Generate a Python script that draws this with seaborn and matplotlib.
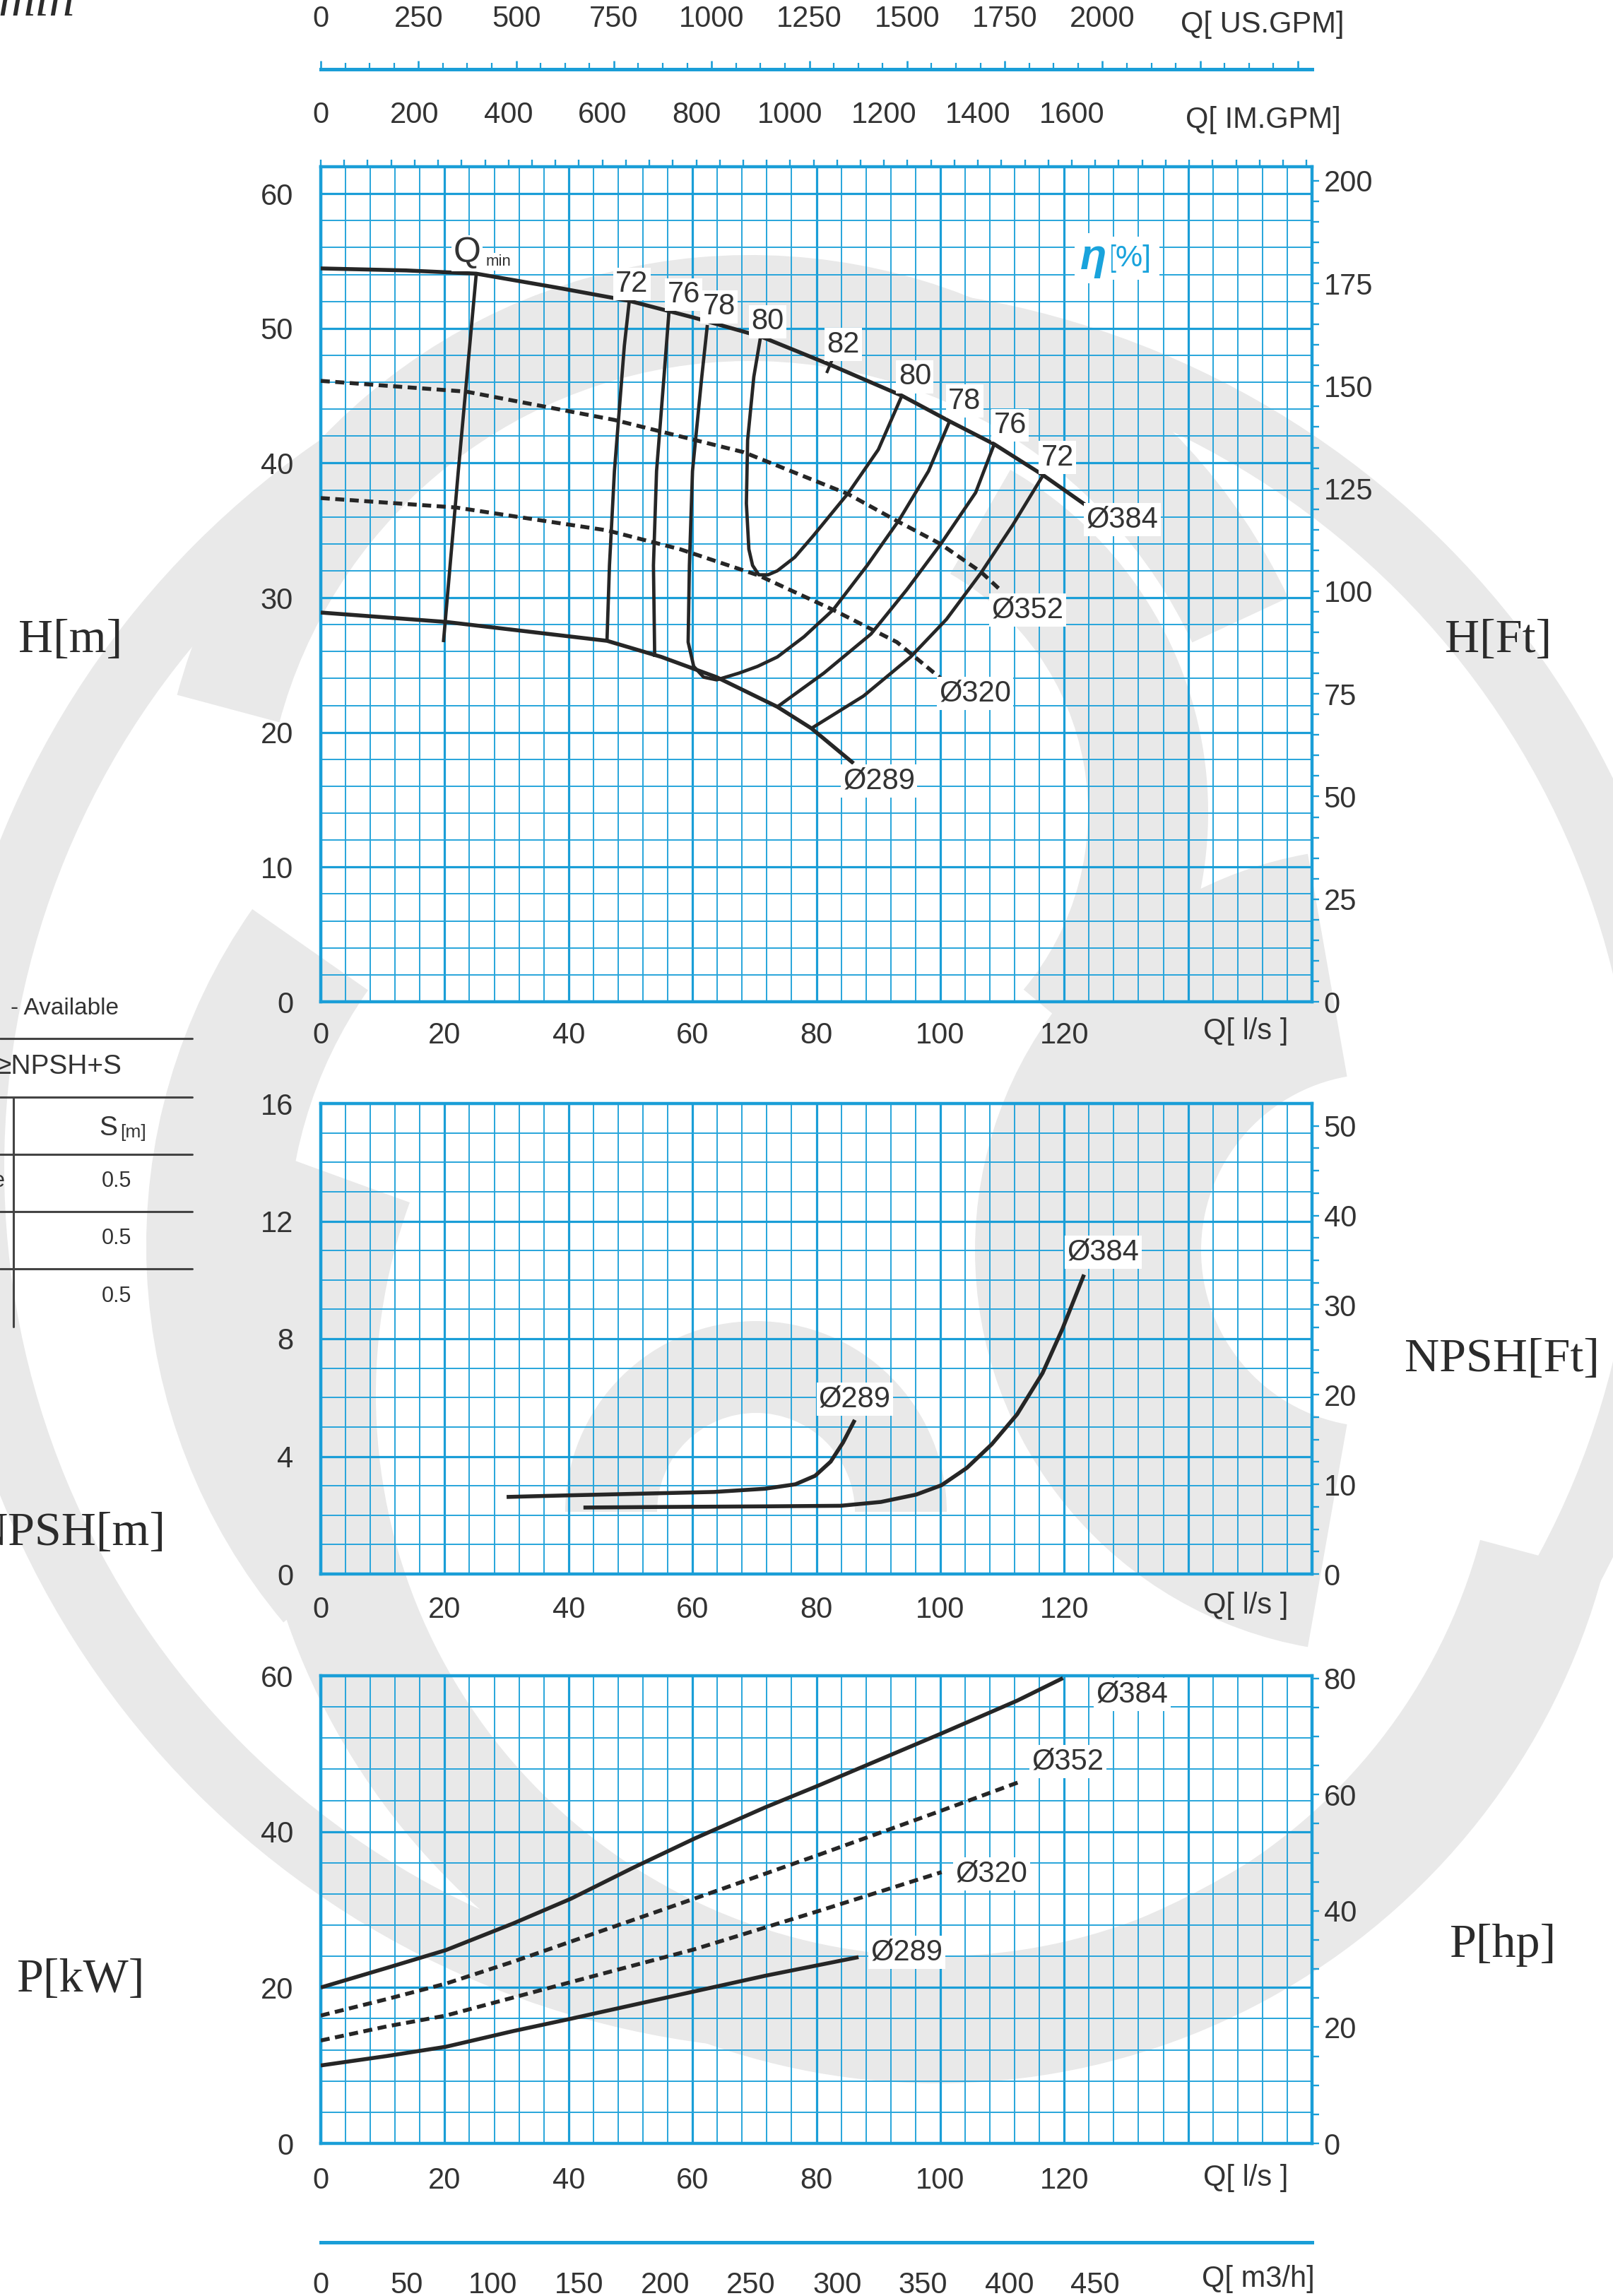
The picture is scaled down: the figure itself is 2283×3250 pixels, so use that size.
import numpy as np
import pandas as pd
import matplotlib
matplotlib.use("Agg")
import matplotlib.pyplot as plt
import seaborn as sns
from matplotlib.patches import Wedge
from matplotlib.markers import MarkerStyle
from matplotlib.transforms import Affine2D
from matplotlib.ticker import MultipleLocator, FuncFormatter

# ------------------------------------------------------------------ data
DIAMETERS = ["Ø384", "Ø352", "Ø320", "Ø289"]

# Head curves  H [m]  vs  Q [l/s]
Q_H384 = [0, 13.8, 25.1, 37.8, 49.8, 60.2, 71.0, 82.2, 93.8, 101.5, 108.7, 116.6, 123.4]
H_384 = [54.45, 54.3, 54.06, 53.05, 52.04, 50.8, 49.4, 47.3, 45.0, 43.1, 41.4, 39.1, 36.9]
Q_H352 = [0, 23.5, 47.4, 68.3, 85.1, 93.0, 100.0, 106.6, 109.4]
H_352 = [46.1, 45.3, 43.2, 40.8, 37.7, 35.7, 34.0, 31.9, 30.7]
Q_H320 = [0, 21.8, 46.2, 58.0, 70.7, 82.7, 93.0, 100.1]
H_320 = [37.4, 36.7, 35.0, 33.6, 31.65, 29.1, 26.7, 24.0]
Q_H289 = [0, 20.25, 46.2, 55.0, 63.9, 73.7, 79.2, 86.0]
H_289 = [28.9, 28.2, 26.8, 25.6, 24.1, 21.9, 20.3, 17.7]

# Efficiency iso-lines (Q [l/s], H [m])
QMIN_Q = [25.1, 22.2, 19.8]
QMIN_H = [54.06, 39.4, 26.7]
E72L_Q = [49.8, 49.0, 47.4, 46.6, 46.2]
E72L_H = [52.04, 48.7, 39.4, 32.4, 26.8]
E76L_Q = [56.2, 55.4, 54.2, 53.7, 53.9]
E76L_H = [51.2, 46.4, 39.4, 32.4, 25.6]
E78_Q = [62.4, 61.5, 60.0, 59.5, 59.3, 60.2, 61.8, 63.9, 67.5, 70.5, 73.7, 78.0, 82.7, 88.2, 93.4, 98.1, 101.5]
E78_H = [50.25, 46.4, 39.4, 32.4, 26.7, 24.9, 24.1, 23.9, 24.4, 24.9, 25.6, 27.1, 29.1, 32.4, 35.8, 39.4, 43.1]
E80_Q = [71.0, 69.9, 68.9, 68.7, 69.1, 69.7, 70.7, 72.2, 73.7, 76.5, 79.5, 85.2, 90.0, 93.8]
E80_H = [49.4, 46.4, 41.7, 37.0, 33.6, 32.4, 31.7, 31.7, 32.0, 33.0, 34.6, 37.8, 41.0, 45.0]
E76R_Q = [108.7, 105.7, 100.1, 94.6, 88.8, 81.2, 73.7]
E76R_H = [41.4, 37.8, 34.0, 30.6, 27.3, 24.4, 21.9]
E72R_Q = [116.6, 111.7, 106.5, 101.0, 95.2, 87.6, 79.2]
E72R_H = [39.1, 35.4, 31.8, 28.4, 25.6, 22.7, 20.3]
BEP82_Q = [82.2]
BEP82_H = [47.3]

EFF_LABELS = ["72", "76", "78", "80", "82", "80", "78", "76", "72"]

# NPSH [m] vs Q [l/s]
Q_N289 = [30.0, 39.1, 51.3, 63.5, 71.7, 76.6, 79.8, 82.3, 84.3, 86.2]
N_289 = [2.62, 2.67, 2.73, 2.79, 2.90, 3.05, 3.34, 3.82, 4.47, 5.24]
Q_N384 = [42.4, 55.4, 71.7, 83.9, 90.4, 96.1, 100.2, 104.3, 108.3, 112.4, 116.5, 119.7, 123.2]
N_384 = [2.26, 2.28, 2.30, 2.32, 2.45, 2.70, 3.02, 3.61, 4.41, 5.43, 6.83, 8.33, 10.18]

# Power P [kW] vs Q [l/s]
Q_P384 = [0, 10.6, 20.2, 31.0, 40.4, 50.5, 60.3, 71.7, 80.3, 100.2, 112.4, 119.8]
P_384 = [20.0, 22.5, 24.8, 28.2, 31.4, 35.4, 39.1, 43.1, 45.9, 52.6, 56.8, 59.7]
Q_P352 = [0, 10.6, 20.2, 31.0, 40.4, 60.3, 80.3, 100.2, 113.2]
P_352 = [16.4, 18.5, 20.5, 23.3, 25.9, 31.4, 37.0, 42.7, 46.5]
Q_P320 = [0, 10.6, 20.2, 31.0, 40.4, 60.3, 80.3, 100.2]
P_320 = [13.2, 15.0, 16.4, 18.7, 20.7, 24.9, 29.8, 34.8]
Q_P289 = [0, 10.6, 20.2, 31.0, 40.4, 60.3, 71.7, 86.8]
P_289 = [10.0, 11.2, 12.4, 14.4, 16.0, 19.5, 21.5, 23.9]

TABLE_S = ["0.5", "0.5", "0.5"]

# unit conversions
FT_PER_M = 1 / 0.3048
HP_PER_KW = 1 / 0.7457
USGPM_PER_LS = 15.8503
IMGPM_PER_LS = 13.1982
M3H_PER_LS = 3.6
Q_MAX = 160

# ------------------------------------------------------------------ style
sns.set_theme(style="white")
plt.rcParams["font.family"] = ["Liberation Sans", "DejaVu Sans"]
BLUE = "#1a9ed7"
BLUE_MIN = "#27a5db"
INK = "#262626"
TXT = "#333333"
GREY = "#e9e9e9"
SERIF = ["Liberation Serif", "DejaVu Serif"]
TICK_FS = 30

W, H = 2283, 3250
fig = plt.figure(figsize=(W / 100, H / 100), dpi=100)
fig.patch.set_facecolor("white")


def add_ax(x0, y0, x1, y1):
    return fig.add_axes([x0 / W, 1 - y1 / H, (x1 - x0) / W, (y1 - y0) / H])


# background (pixel coordinates, y downwards)
bg = fig.add_axes([0, 0, 1, 1])
bg.set_xlim(0, W)
bg.set_ylim(H, 0)
bg.axis("off")
bg.set_zorder(-1)

LOGO = [  # cx, cy, r_outer, width, theta1, theta2 (decorative watermark)
    (1161, 1653, 1250, 95, 0, 360),
    (1062, 1201, 840, 150, 195, 335),
    (1327, 1974, 975, 180, 15, 200),
    (1037, 1763, 830, 200, 140, 215),
    (1070, 2140, 270, 130, 180, 360),
    (1950, 1770, 570, 320, 100, 260),
    (1150, 1150, 560, 170, 300, 40),
]
for cx, cy, r, w, t1, t2 in LOGO:
    bg.add_patch(Wedge((cx, cy), r, t1, t2, width=w, fc=GREY, ec="none"))

X0, X1 = 454, 1857


def panel(y0, y1, ymax, ymaj, ymin, xpad):
    ax = add_ax(X0, y0, X1, y1)
    ax.set_facecolor("none")
    ax.xaxis.set_major_locator(MultipleLocator(20))
    ax.xaxis.set_minor_locator(MultipleLocator(4))
    ax.yaxis.set_major_locator(MultipleLocator(ymaj))
    ax.yaxis.set_minor_locator(MultipleLocator(ymin))
    ax.grid(which="major", color=BLUE, lw=2.3)
    ax.grid(which="minor", color=BLUE_MIN, lw=1.4)
    ax.set_axisbelow(True)
    for s in ax.spines.values():
        s.set_color(BLUE)
        s.set_linewidth(3.2)
    ax.tick_params(which="both", length=0, labelsize=TICK_FS, labelcolor=TXT)
    ax.tick_params(axis="x", pad=xpad)
    ax.tick_params(axis="y", pad=28)
    ax.xaxis.set_major_formatter(FuncFormatter(lambda v, p: f"{v:.0f}" if v <= 120.5 else ""))
    ax.yaxis.set_major_formatter(FuncFormatter(lambda v, p: f"{v:.0f}"))
    return ax


def right_axis(ax, ymax, factor, maj, mnr, last):
    ar = ax.twinx()
    ar.set_ylim(0, ymax * factor)
    ar.yaxis.set_major_locator(MultipleLocator(maj))
    ar.yaxis.set_minor_locator(MultipleLocator(mnr))
    ar.tick_params(axis="y", which="both", direction="out", length=7, width=1.7,
                   color=BLUE, labelsize=TICK_FS, labelcolor=TXT, pad=5)
    ar.yaxis.set_major_formatter(FuncFormatter(lambda v, p: f"{v:.0f}" if v <= last + 0.01 else ""))
    for s in ar.spines.values():
        s.set_visible(False)
    ar.grid(False)
    return ar


def curve(ax, q, v, dashed=False, lw=4.0):
    sns.lineplot(x=q, y=v, ax=ax, sort=False, estimator=None, color=INK,
                 linewidth=lw, zorder=4)
    ln = ax.lines[-1]
    if dashed:
        ln.set_dashes([2.3, 1.4])
    ln.set_solid_capstyle("butt")
    ln.set_solid_joinstyle("round")
    ax.set_xlabel("")
    ax.set_ylabel("")


def label(ax, x, y, s, fs=30, **kw):
    ax.text(x, y, s, fontsize=fs, color=TXT, ha="center", va="center", zorder=6,
            bbox=dict(boxstyle="square,pad=0.08", fc="white", ec="none"), **kw)


# ------------------------------------------------------------------ head panel
axH = panel(236, 1418, 62, 10, 2, 20)
curve(axH, Q_H384, H_384)
curve(axH, Q_H352, H_352, dashed=True)
curve(axH, Q_H320, H_320, dashed=True)
curve(axH, Q_H289, H_289)
for q, h in [(QMIN_Q, QMIN_H), (E72L_Q, E72L_H), (E76L_Q, E76L_H), (E78_Q, E78_H),
             (E80_Q, E80_H), (E76R_Q, E76R_H), (E72R_Q, E72R_H)]:
    curve(axH, q, h, lw=3.4)
axH.plot(BEP82_Q, BEP82_H, ls="none", color=INK, mew=3.0, ms=18,
         marker=MarkerStyle("|", transform=Affine2D().rotate_deg(-23)), zorder=4)
axH.set_xlim(0, Q_MAX)
axH.set_ylim(0, 62)

EFF_POS = [(50.2, 53.3), (58.6, 52.5), (64.3, 51.6), (72.1, 50.5), (84.3, 48.8),
           (95.9, 46.4), (103.9, 44.6), (111.3, 42.8), (118.9, 40.4)]
for (x, y), s in zip(EFF_POS, EFF_LABELS):
    label(axH, x, y, s, fs=30)
for (x, y), s in zip([(129.4, 35.8), (114.1, 29.1), (105.6, 22.9), (90.1, 16.4)], DIAMETERS):
    label(axH, x, y, s)
axH.text(23.6, 55.6, "Q", fontsize=36, color=TXT, ha="center", va="center", zorder=6,
         bbox=dict(boxstyle="square,pad=0.05", fc="white", ec="none"))
axH.text(26.6, 54.95, "min", fontsize=16, color=TXT, ha="left", va="center", zorder=6,
         bbox=dict(boxstyle="square,pad=0.1", fc="white", ec="none"))
axH.text(127.0, 55.2, "[%]", fontsize=31, color="#19a3dc", ha="left", va="center", zorder=6,
         bbox=dict(boxstyle="square,pad=0.25", fc="white", ec="none"))
axH.text(126.8, 55.2, "η", fontsize=44, color="#19a3dc", ha="right", va="center",
         fontstyle="italic", fontweight="bold", zorder=7,
         bbox=dict(boxstyle="square,pad=0.12", fc="white", ec="none"))

right_axis(axH, 62, FT_PER_M, 25, 5, 200)

# IM GPM axis on top of the head frame
axT = axH.twiny()
axT.set_xlim(0, Q_MAX * IMGPM_PER_LS)
axT.xaxis.set_major_locator(MultipleLocator(200))
axT.xaxis.set_minor_locator(MultipleLocator(50))
axT.tick_params(axis="x", which="both", direction="out", length=7, width=1.7, color=BLUE,
                labelsize=TICK_FS, labelcolor=TXT, pad=31)
axT.xaxis.set_major_formatter(FuncFormatter(lambda v, p: f"{v:.0f}" if v <= 1600.5 else ""))
for s in axT.spines.values():
    s.set_visible(False)

# US GPM scale
axU = add_ax(X0, 98, X1, 100)
axU.set_facecolor("none")
for k, s in axU.spines.items():
    s.set_visible(k == "top")
axU.spines["top"].set_color(BLUE)
axU.spines["top"].set_linewidth(3.6)
axU.set_xlim(0, Q_MAX * USGPM_PER_LS)
axU.set_yticks([])
axU.xaxis.tick_top()
axU.xaxis.set_major_locator(MultipleLocator(250))
axU.xaxis.set_minor_locator(MultipleLocator(62.5))
axU.tick_params(axis="x", which="major", direction="out", length=8.5, width=1.9, color=BLUE,
                labelsize=TICK_FS, labelcolor=TXT, pad=28)
axU.tick_params(axis="x", which="minor", direction="out", length=6.5, width=1.6, color=BLUE)
axU.xaxis.set_major_formatter(FuncFormatter(lambda v, p: f"{v:.0f}" if v <= 2000.5 else ""))

# ------------------------------------------------------------------ NPSH panel
axN = panel(1562, 2228, 16, 4, 1, 22)
curve(axN, Q_N289, N_289)
curve(axN, Q_N384, N_384)
axN.set_xlim(0, Q_MAX)
axN.set_ylim(0, 16)
label(axN, 86.2, 5.95, "Ø289")
label(axN, 126.3, 10.95, "Ø384")
right_axis(axN, 16, FT_PER_M, 10, 2.5, 50)

# ------------------------------------------------------------------ power panel
axP = panel(2372, 3034, 60, 20, 4, 24)
curve(axP, Q_P384, P_384)
curve(axP, Q_P352, P_352, dashed=True)
curve(axP, Q_P320, P_320, dashed=True)
curve(axP, Q_P289, P_289)
axP.set_xlim(0, Q_MAX)
axP.set_ylim(0, 60)
for (x, y), s in zip([(131.0, 57.6), (120.6, 49.0), (108.3, 34.6), (94.6, 24.5)], DIAMETERS):
    label(axP, x, y, s)
right_axis(axP, 60, HP_PER_KW, 20, 5, 80)

# m3/h scale
axM = add_ax(X0, 3172, X1, 3174)
axM.set_facecolor("none")
for k, s in axM.spines.items():
    s.set_visible(k == "bottom")
axM.spines["bottom"].set_color(BLUE)
axM.spines["bottom"].set_linewidth(3.6)
axM.set_xlim(0, Q_MAX * M3H_PER_LS)
axM.set_yticks([])
axM.xaxis.set_major_locator(MultipleLocator(50))
axM.xaxis.set_minor_locator(MultipleLocator(10))
axM.tick_params(axis="x", which="both", direction="out", length=8.5, width=1.6, color=BLUE,
                labelsize=TICK_FS, labelcolor=TXT, pad=21)
axM.xaxis.set_major_formatter(FuncFormatter(lambda v, p: f"{v:.0f}" if v <= 450.5 else ""))

# ------------------------------------------------------------------ texts (pixel coords)
for x, y, s in [(1787, 35, "Q[ US.GPM]"), (1788, 170, "Q[ IM.GPM]"), (1763, 1460, "Q[ l/s ]"),
                (1763, 2273, "Q[ l/s ]"), (1763, 3083, "Q[ l/s ]"), (1781, 3226, "Q[ m3/h]")]:
    bg.text(x, y, s, fontsize=TICK_FS, color=TXT, ha="center", va="center")

for x, y, s in [(100, 906, "H[m]"), (98, 2171, "NPSH[m]"), (114, 2803, "P[kW]"),
                (2121, 906, "H[Ft]"), (2126, 1925, "NPSH[Ft]"), (2127, 2753, "P[hp]")]:
    bg.text(x, y, s, fontsize=49, color="#2b2b2b", ha="center", va="center", family=SERIF)
bg.text(-3, 22, "min", fontsize=52, color="#2b2b2b", ha="left", va="baseline",
        family=SERIF, fontstyle="italic")

# partial NPSH table at the left edge
for y in [1470, 1553, 1634, 1715, 1796]:
    bg.plot([0, 272], [y, y], color="#444444", lw=2.2)
bg.plot([19, 19], [1553, 1878], color="#444444", lw=2.2)
bg.text(15, 1428, "- Available", fontsize=24, color=TXT, ha="left", va="center")
bg.text(173, 1510, "≥NPSH+S", fontsize=28, color=TXT, ha="right", va="center")
bg.text(140, 1597, "S", fontsize=28, color=TXT, ha="left", va="center")
bg.text(170, 1603, "[m]", fontsize=19, color=TXT, ha="left", va="center")
bg.text(7, 1672, "e", fontsize=22, color=TXT, ha="right", va="center")
for y, s in zip([1672, 1753, 1835], TABLE_S):
    bg.text(165, y, s, fontsize=22, color=TXT, ha="center", va="center")

fig.savefig("out.png", dpi=100, facecolor="white")
